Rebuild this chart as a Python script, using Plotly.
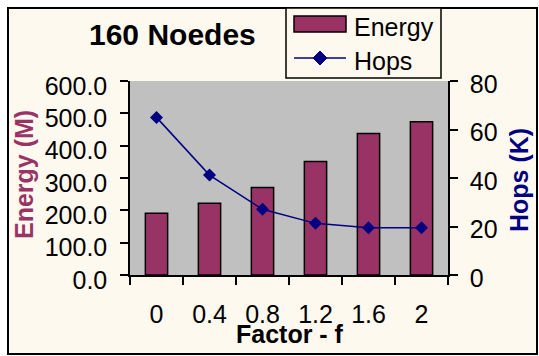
import plotly.graph_objects as go

categories = ["0", "0.4", "0.8", "1.2", "1.6", "2"]
energy = [191, 222, 271, 351, 438, 474]
hops = [65, 41.2, 27.1, 21.3, 19.5, 19.5]
energy_ticks = [0, 100, 200, 300, 400, 500, 600]
hops_ticks = [0, 20, 40, 60, 80]

W, H = 539, 356
L, R, T, B = 130, 448, 81, 275
FONT = "Liberation Sans, Arial, sans-serif"
CREAM = "#FDF9EE"
MAROON = "#993366"
NAVY = "#000080"


def px(x):
    return (x - L) / (R - L)


def py(y):
    return (B - y) / (B - T)


fig = go.Figure()
fig.add_trace(go.Bar(
    x=categories, y=energy, name="Energy", width=0.42,
    marker=dict(color=MAROON, line=dict(color="black", width=1.5)),
    showlegend=False,
))
fig.add_trace(go.Scatter(
    x=categories, y=hops, name="Hops", yaxis="y2", mode="lines+markers",
    line=dict(color=NAVY, width=1.5),
    marker=dict(symbol="diamond", size=10, color=NAVY),
    showlegend=False,
))

shapes = [
    dict(type="rect", xref="paper", yref="paper", layer="below",
         x0=px(8), x1=px(537), y0=py(354), y1=py(8),
         fillcolor=CREAM, line=dict(color="black", width=2)),
    dict(type="rect", xref="paper", yref="paper", layer="below",
         x0=0, x1=1, y0=0, y1=1, fillcolor="#C0C0C0", line=dict(width=0)),
    # legend box
    dict(type="rect", xref="paper", yref="paper",
         x0=px(286), x1=px(441), y0=py(78), y1=py(8),
         fillcolor=CREAM, line=dict(color="black", width=1.5)),
    dict(type="rect", xref="paper", yref="paper",
         x0=px(294), x1=px(346), y0=py(32), y1=py(16),
         fillcolor=MAROON, line=dict(color="black", width=1.5)),
    dict(type="line", xref="paper", yref="paper",
         x0=px(294), x1=px(346), y0=py(58), y1=py(58),
         line=dict(color=NAVY, width=1.5)),
    dict(type="path", xref="paper", yref="paper",
         path="M {a},{b} L {c},{d} L {a},{e} L {f},{d} Z".format(
             a=px(320), b=py(51), c=px(327), d=py(58), e=py(65), f=px(313)),
         fillcolor=NAVY, line=dict(color=NAVY, width=1)),
]

annotations = [
    dict(text="<b>160 Noedes</b>", x=px(172), y=py(35), xref="paper", yref="paper",
         showarrow=False, xanchor="center", yanchor="middle",
         font=dict(family=FONT, size=30, color="black")),
    dict(text="Energy", x=px(352), y=py(27), xref="paper", yref="paper",
         showarrow=False, xanchor="left", yanchor="middle",
         font=dict(family=FONT, size=25, color="black")),
    dict(text="Hops", x=px(352), y=py(61), xref="paper", yref="paper",
         showarrow=False, xanchor="left", yanchor="middle",
         font=dict(family=FONT, size=25, color="black")),
    dict(text="<b>Energy (M)</b>", x=px(24), y=py(175), xref="paper", yref="paper",
         showarrow=False, textangle=-90, xanchor="center", yanchor="middle",
         font=dict(family=FONT, size=25, color=MAROON)),
    dict(text="<b>Hops (K)</b>", x=px(519), y=py(180), xref="paper", yref="paper",
         showarrow=False, textangle=-90, xanchor="center", yanchor="middle",
         font=dict(family=FONT, size=25, color=NAVY)),
    dict(text="<b>Factor - f</b>", x=px(290), y=py(334), xref="paper", yref="paper",
         showarrow=False, xanchor="center", yanchor="middle",
         font=dict(family=FONT, size=25, color="black")),
]

n = len(categories)
boundaries = [i - 0.5 for i in range(n + 1)]
tick_common = dict(ticklen=8, tickwidth=1.5, tickcolor="black",
                   showline=True, linecolor="black", linewidth=1.5,
                   showgrid=False, zeroline=False)

fig.update_layout(
    width=W, height=H,
    margin=dict(l=L, r=W - R, t=T, b=H - B, pad=0),
    paper_bgcolor="white",
    plot_bgcolor="rgba(0,0,0,0)",
    showlegend=False,
    shapes=shapes,
    annotations=annotations,
    font=dict(family=FONT, size=25, color="black"),
    bargap=0.58,
    xaxis=dict(
        type="category", categoryorder="array", categoryarray=categories,
        tickson="boundaries", ticks="outside", ticklabelstandoff=16,
        tickfont=dict(family=FONT, size=25, color="black"), **tick_common,
    ),
    xaxis2=dict(
        overlaying="x", anchor="y", side="bottom", type="linear",
        range=[-0.5, n - 0.5], tickvals=boundaries, ticks="inside",
        showticklabels=False, **tick_common,
    ),
    yaxis=dict(
        range=[0, 600], tickvals=energy_ticks, tickformat=".1f",
        ticks="outside", ticklabelstandoff=8, ticklabelshift=5,
        tickfont=dict(family=FONT, size=25, color="black"), **tick_common,
    ),
    yaxis2=dict(
        range=[0, 80], tickvals=hops_ticks, overlaying="y", side="right",
        ticks="outside", ticklabelstandoff=7, ticklabelshift=3,
        tickfont=dict(family=FONT, size=25, color="black"), **tick_common,
    ),
    yaxis3=dict(
        range=[0, 600], tickvals=energy_ticks, overlaying="y", side="left",
        anchor="x", ticks="inside", ticklen=3, showticklabels=False,
        **{k: v for k, v in tick_common.items() if k != "ticklen"},
    ),
    yaxis4=dict(
        range=[0, 80], tickvals=hops_ticks, overlaying="y", side="right",
        anchor="x", ticks="inside", showticklabels=False, **tick_common,
    ),
)

fig.write_html("out.html")
